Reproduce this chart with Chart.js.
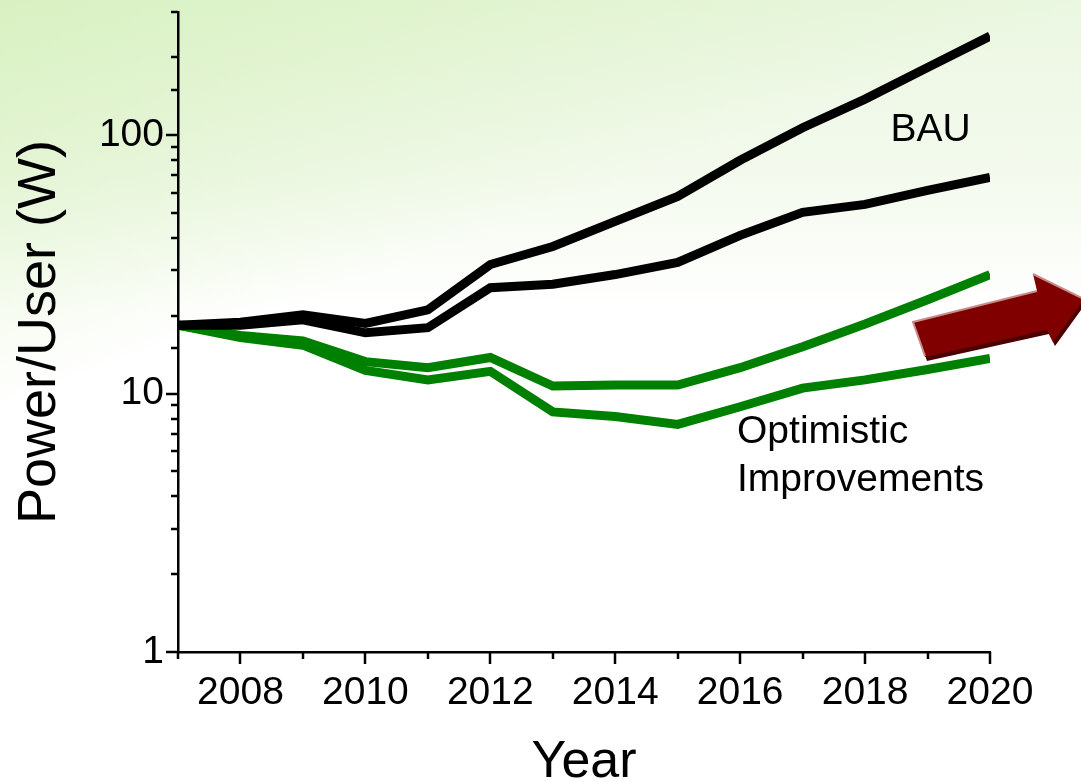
<!DOCTYPE html>
<html lang="en">
<head>
  <meta charset="UTF-8">
  <title>Power per User</title>
  <script src="https://cdn.jsdelivr.net/npm/chart.js"></script>
  <style>
    html, body {
      margin: 0;
      padding: 0;
    }
    body {
      width: 1081px;
      height: 782px;
      overflow: hidden;
      background:
        linear-gradient(160deg, rgba(214, 240, 190, 0.9) 0%, rgba(214, 240, 190, 0) 35%),
        linear-gradient(to bottom, #ebf7e1 0%, #f3faed 22%, #ffffff 40%);
    }
    #chart-container {
      width: 1081px;
      height: 782px;
    }
  </style>
</head>
<body>

  <div id="chart-container">
    <canvas id="chart"></canvas>
  </div>

  <script>
    const years = [2007, 2008, 2009, 2010, 2011, 2012, 2013, 2014, 2015, 2016, 2017, 2018, 2019, 2020];
    const bauHigh = [18.4, 18.9, 20.2, 18.7, 21.1, 31.6, 37.1, 46.4, 58, 80, 107, 138, 183, 242];
    const bauLow = [18.4, 18.4, 19.3, 17.2, 18.0, 25.7, 26.5, 28.9, 32.2, 41, 50.3, 54, 61.2, 68.7];
    const optHigh = [18.4, 16.8, 16.0, 13.3, 12.6, 13.8, 10.7, 10.8, 10.8, 12.6, 15.2, 18.6, 23.1, 28.9];
    const optLow = [18.4, 16.5, 15.4, 12.3, 11.3, 12.2, 8.5, 8.15, 7.6, 8.9, 10.5, 11.3, 12.4, 13.7];
    const yLabels = [1, 10, 100];
    const xLabels = [2008, 2010, 2012, 2014, 2016, 2018, 2020];

    const FONT = "'Liberation Sans', Arial, sans-serif";

    function toPoints(vals) {
      return years.map((yr, i) => ({ x: yr, y: vals[i] }));
    }

    function lineSet(label, vals, color) {
      return {
        label: label,
        data: toPoints(vals),
        borderColor: color,
        borderWidth: 9,
        pointRadius: 0,
        tension: 0,
        fill: false
      };
    }

    // tick marks: long for labelled ticks, short for the rest
    const tickMarks = {
      id: 'tickMarks',
      afterDraw(chart) {
        const ctx = chart.ctx;
        const xs = chart.scales.x;
        const ys = chart.scales.y;
        const area = chart.chartArea;
        ctx.save();
        ctx.strokeStyle = '#000';
        ctx.lineWidth = 2.5;
        ctx.beginPath();
        ys.ticks.forEach(t => {
          const py = Math.round(ys.getPixelForValue(t.value));
          const len = yLabels.includes(t.value) ? 12 : 7;
          ctx.moveTo(area.left, py);
          ctx.lineTo(area.left - len, py);
        });
        xs.ticks.forEach(t => {
          const px = Math.round(xs.getPixelForValue(t.value));
          const len = xLabels.includes(t.value) ? 12 : 7;
          ctx.moveTo(px, area.bottom);
          ctx.lineTo(px, area.bottom + len);
        });
        ctx.stroke();
        ctx.restore();
      }
    };

    // series captions and the red arrow
    const notes = {
      id: 'notes',
      afterDraw(chart) {
        const ctx = chart.ctx;
        const xs = chart.scales.x;
        const ys = chart.scales.y;
        ctx.save();
        ctx.fillStyle = '#000';
        ctx.font = '39px ' + FONT;
        ctx.textBaseline = 'middle';
        ctx.textAlign = 'center';
        ctx.fillText('BAU', xs.getPixelForValue(2019.05), ys.getPixelForValue(105));
        ctx.textAlign = 'left';
        ctx.fillText('Optimistic', xs.getPixelForValue(2015.95), ys.getPixelForValue(7.1));
        ctx.fillText('Improvements', xs.getPixelForValue(2015.95), ys.getPixelForValue(4.62));

        const arrow = [[913, 322], [1037, 291], [1033, 274], [1084, 299], [1053, 342], [1047, 330], [925, 357]];
        const path = (dx, dy) => {
          ctx.beginPath();
          arrow.forEach((p, i) => i ? ctx.lineTo(p[0] + dx, p[1] + dy) : ctx.moveTo(p[0] + dx, p[1] + dy));
          ctx.closePath();
        };
        ctx.fillStyle = '#4a0000';
        path(2, 4);
        ctx.fill();
        ctx.fillStyle = '#800000';
        path(0, 0);
        ctx.fill();
        ctx.strokeStyle = '#c98a8a';
        ctx.lineWidth = 2;
        ctx.beginPath();
        ctx.moveTo(925, 356);
        ctx.lineTo(913, 322);
        ctx.lineTo(1037, 291);
        ctx.moveTo(1033, 274);
        ctx.lineTo(1084, 299);
        ctx.stroke();
        ctx.restore();
      }
    };

    const ctx = document.getElementById('chart').getContext('2d');
    new Chart(ctx, {
      type: 'line',
      data: {
        datasets: [
          lineSet('BAU high', bauHigh, '#000000'),
          lineSet('BAU low', bauLow, '#000000'),
          lineSet('Optimistic high', optHigh, '#008000'),
          lineSet('Optimistic low', optLow, '#008000')
        ]
      },
      options: {
        responsive: true,
        maintainAspectRatio: false,
        animation: false,
        layout: {
          padding: { top: 12, right: 91, left: 0, bottom: 0 }
        },
        plugins: {
          legend: { display: false },
          tooltip: { enabled: false }
        },
        scales: {
          x: {
            type: 'linear',
            min: 2007,
            max: 2020,
            afterFit: s => { s.height = 130; s.paddingLeft = 0; s.paddingRight = 0; },
            grid: { display: false, drawTicks: true, tickLength: 12 },
            border: { display: true, color: '#000', width: 2.5 },
            ticks: {
              stepSize: 1,
              autoSkip: false,
              maxRotation: 0,
              padding: 6,
              color: '#000',
              font: { family: FONT, size: 39 },
              callback: v => xLabels.includes(v) ? String(v) : ''
            },
            title: {
              display: true,
              text: 'Year',
              color: '#000',
              font: { family: FONT, size: 52, lineHeight: 0.75 },
              padding: 0
            }
          },
          y: {
            type: 'logarithmic',
            min: 1,
            max: 300,
            afterFit: s => { s.width = 178; s.paddingTop = 0; s.paddingBottom = 0; },
            grid: { display: false, drawTicks: true, tickLength: 12 },
            border: { display: true, color: '#000', width: 2.5 },
            ticks: {
              autoSkip: false,
              padding: 2,
              color: '#000',
              font: { family: FONT, size: 39 },
              callback: v => yLabels.includes(v) ? String(v) : ''
            },
            title: {
              display: true,
              text: 'Power/User (W)',
              color: '#000',
              font: { family: FONT, size: 54, lineHeight: 1.2 },
              padding: { top: 8, bottom: 0 }
            }
          }
        }
      },
      plugins: [tickMarks, notes]
    });
  </script>

</body>
</html>
